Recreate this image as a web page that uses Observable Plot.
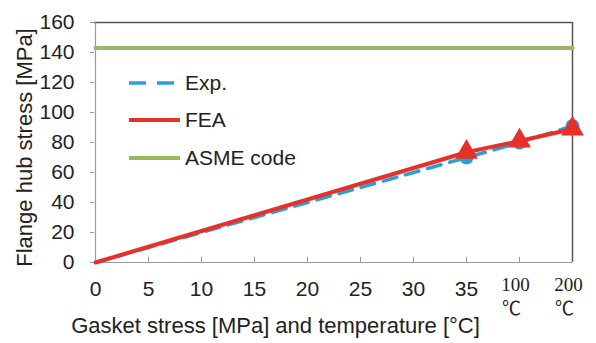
<!DOCTYPE html>
<html>
<head>
<meta charset="utf-8">
<script src="https://cdn.jsdelivr.net/npm/d3@7"></script>
<script src="https://cdn.jsdelivr.net/npm/@observablehq/plot@0.6"></script>
<style>
  html, body { margin: 0; padding: 0; background: #fff; }
  #wrap { position: relative; width: 596px; height: 343px; font-family: "Liberation Sans", Arial, sans-serif; }
  #legend { position: absolute; left: 129px; top: 64px; font-size: 21px; color: #222; }
  #legend .row { display: flex; align-items: center; height: 37.5px; }
  #legend svg { margin-right: 5px; }
</style>
</head>
<body>
<div id="wrap"></div>
<script>
// ---- data ----
const categories = ["0", "5", "10", "15", "20", "25", "30", "35", "100", "200"];
const tempCategories = ["100", "200"];
const expValues = [0, 10, 20, 30, 40, 50, 60, 70, 80, 91];
const feaValues = [0, 10.5, 21, 31.5, 42, 52.5, 63, 73.5, 81, 89];
const markerCategories = ["35", "100", "200"];
const asmeValue = 143;
const yTicks = [0, 20, 40, 60, 80, 100, 120, 140, 160];
const seriesNames = ["Exp.", "FEA", "ASME code"];
const colors = {exp: "#2aa0da", fea: "#e8302a", asme: "#98b95e"};

const exp = categories.map((c, i) => ({cat: c, v: expValues[i]}));
const fea = categories.map((c, i) => ({cat: c, v: feaValues[i]}));
const expMarks = exp.filter(d => markerCategories.includes(d.cat));
const feaMarks = fea.filter(d => markerCategories.includes(d.cat));
const asme = [{cat: categories[0], v: asmeValue}, {cat: categories[categories.length - 1], v: asmeValue}];

const chart = Plot.plot({
  width: 596,
  height: 343,
  marginLeft: 94,
  marginRight: 24,
  marginTop: 22,
  marginBottom: 81,
  style: {fontFamily: '"Liberation Sans", Arial, sans-serif', fontSize: "21px", color: "#222", background: "#fff", overflow: "visible"},
  x: {type: "point", domain: categories, padding: 0},
  y: {domain: [0, 160]},
  marks: [
    Plot.ruleY([160], {stroke: "#555", strokeWidth: 1.5}),
    Plot.ruleX([categories[categories.length - 1]], {stroke: "#555", strokeWidth: 1.5}),
    Plot.ruleY([0], {stroke: "#999", strokeWidth: 1.2}),
    Plot.ruleX([categories[0]], {stroke: "#999", strokeWidth: 1.2}),
    Plot.ruleX(categories.slice(1, -1), {y1: 0, y2: 3.5, stroke: "#999", strokeWidth: 1}),
    Plot.axisY({ticks: yTicks, tickSize: 4, tickPadding: 16, stroke: "#999", fill: "#222", label: null}),
    Plot.text(["Flange hub stress [MPa]"], {frameAnchor: "left", textAnchor: "middle", text: d => d, rotate: -90,
      dx: -70, dy: 5, fill: "#222", fontSize: 22}),
    Plot.axisX({tickSize: 0, tickPadding: 19, fill: "#222",
      tickFormat: d => tempCategories.includes(d) ? "" : d, label: null}),
    Plot.text(tempCategories, {x: d => d, y: () => 0, text: d => d, dy: 22, dx: -4,
      fontFamily: '"Liberation Serif", "Times New Roman", serif', fontSize: 19, fill: "#222"}),
    Plot.text(tempCategories, {x: d => d, y: () => 0, text: () => "℃", dy: 46, dx: -8,
      fontFamily: '"Noto Sans CJK JP", "Liberation Serif", serif', fontSize: 19, fill: "#222"}),
    Plot.text(["Gasket stress [MPa] and temperature [°C]"], {frameAnchor: "bottom", text: d => d,
      dx: -58, dy: 70, fill: "#222", fontSize: 22}),
    Plot.line(asme, {x: "cat", y: "v", stroke: colors.asme, strokeWidth: 4}),
    Plot.line(exp, {x: "cat", y: "v", stroke: colors.exp, strokeWidth: 3.5, strokeDasharray: "14,9"}),
    Plot.dot(expMarks, {x: "cat", y: "v", r: 7, fill: colors.exp, stroke: "none"}),
    Plot.line(fea, {x: "cat", y: "v", stroke: colors.fea, strokeWidth: 4}),
    Plot.dot(feaMarks, {x: "cat", y: "v", symbol: "triangle", r: 8.5, fill: colors.fea, stroke: "none"})
  ]
});
const wrap = document.getElementById("wrap");
wrap.appendChild(chart);

const legend = document.createElement("div");
legend.id = "legend";
const legendStyles = [
  {color: colors.exp, dash: "17,11", width: 3.5},
  {color: colors.fea, dash: null, width: 4},
  {color: colors.asme, dash: null, width: 4}
];
seriesNames.forEach((name, i) => {
  const row = document.createElement("div");
  row.className = "row";
  const s = legendStyles[i];
  row.innerHTML = `<svg width="51" height="10"><line x1="0" x2="51" y1="5" y2="5" stroke="${s.color}" stroke-width="${s.width}" ${s.dash ? `stroke-dasharray="${s.dash}"` : ""}/></svg><span>${name}</span>`;
  legend.appendChild(row);
});
wrap.appendChild(legend);
</script>
</body>
</html>
